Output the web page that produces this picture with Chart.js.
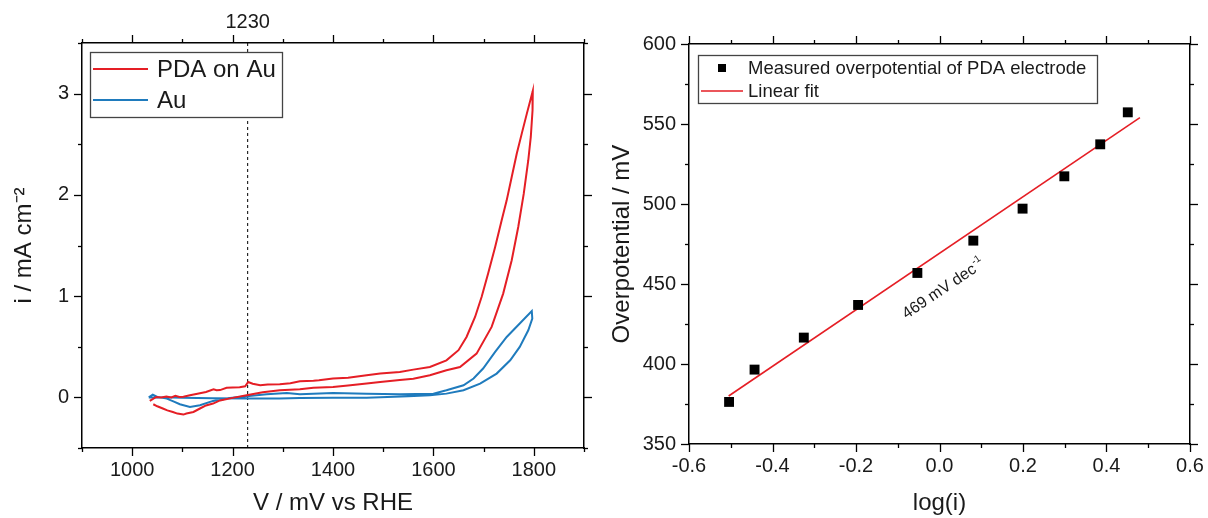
<!DOCTYPE html>
<html><head><meta charset="utf-8">
<script src="https://cdn.jsdelivr.net/npm/chart.js@4.4.1/dist/chart.umd.min.js"></script>
<style>
html,body{margin:0;padding:0;background:#fff;width:1208px;height:518px;overflow:hidden}
canvas{position:absolute;top:0}
#left{left:0}
#right{left:600px}
</style></head><body>
<canvas id="left" width="600" height="518"></canvas>
<canvas id="right" width="608" height="518"></canvas>
<script>
// ---------------- data ----------------
// Cyclic voltammogram, PDA on Au (closed loop, in drawing order)
const cvPdaVoltage = [1035,1048,1058,1068,1078,1086,1094,1102,1115,1130,1147,1162,1168,1175,1188,1200,1214,1225,1231,1240,1255,1270,1294,1315,1334,1361,1372,1400,1430,1467,1494,1533,1560,1593,1626,1650,1666,1683,1696,1709,1723,1736,1746,1756,1766,1776,1786,1798,
  1798,1797,1794,1789,1780,1769,1756,1739,1716,1686,1653,1626,1593,1560,1533,1494,1467,1430,1400,1361,1334,1294,1260,1228,1200,1175,1161,1147,1135,1122,1108,1102,1090,1081,1070,1061,1050,1042];
const cvPdaCurrent = [-0.035,0.004,0.0,0.008,0.0,0.015,0.004,0.006,0.02,0.035,0.053,0.08,0.07,0.072,0.095,0.097,0.1,0.11,0.152,0.135,0.12,0.128,0.13,0.14,0.159,0.165,0.17,0.186,0.195,0.218,0.235,0.251,0.274,0.30,0.366,0.466,0.597,0.794,0.991,1.223,1.486,1.749,1.946,2.177,2.407,2.605,2.80,3.027,
  2.95,2.836,2.572,2.342,2.012,1.683,1.354,1.025,0.696,0.432,0.30,0.268,0.218,0.185,0.172,0.152,0.136,0.118,0.103,0.095,0.08,0.07,0.05,0.02,-0.005,-0.03,-0.061,-0.08,-0.11,-0.144,-0.16,-0.17,-0.16,-0.144,-0.128,-0.11,-0.088,-0.068];
// Cyclic voltammogram, bare Au
const cvAuVoltage = [1033,1041,1050,1069,1082,1095,1115,1135,1161,1195,1228,1268,1308,1334,1400,1467,1533,1600,1626,1660,1680,1699,1723,1746,1772,1796,
  1797,1789,1772,1753,1726,1693,1660,1626,1593,1550,1467,1400,1334,1293,1227,1160,1100,1060,1033];
const cvAuCurrent = [0.0,0.027,0.005,-0.012,-0.04,-0.068,-0.095,-0.078,-0.035,-0.006,0.011,0.03,0.043,0.03,0.043,0.037,0.03,0.037,0.07,0.12,0.186,0.285,0.449,0.597,0.729,0.853,
  0.778,0.663,0.498,0.366,0.235,0.136,0.07,0.037,0.02,0.01,-0.003,-0.003,-0.006,-0.012,-0.012,-0.008,-0.004,0.0,0.0];
const referencePotential = 1230;

// Tafel plot
const tafelLogI = [-0.504,-0.443,-0.325,-0.195,-0.053,0.081,0.199,0.299,0.385,0.451];
const tafelEta  = [376.3,396.5,416.5,436.9,456.9,477.1,497.1,517.3,537.3,557.3];
const fitLogI = [-0.505, 0.48];
const fitEta  = [380, 554];
const slopeText = '469 mV dec';
const slopeSup = '-1';

// tick labels
const cvXTickLabels = [1000,1200,1400,1600,1800];
const cvYTickLabels = [0,1,2,3];
const tafelXTickLabels = [-0.6,-0.4,-0.2,0.0,0.2,0.4,0.6];
const tafelYTickLabels = [350,400,450,500,550,600];

// ---------------- styling helpers ----------------
const FONT = "'Liberation Sans', Arial, Helvetica, sans-serif";
const INK = '#1a1a1a';
const RED = '#e51e25';
const BLUE = '#1f7bbd';

const isMult = (v, step) => { const r = v / step; return Math.abs(r - Math.round(r)) < 1e-6; };
const inList = (v, list) => list.some(l => Math.abs(l - v) < 1e-9);

const tickMarks = {
  id: 'tickMarks',
  afterDraw(chart, args, opts) {
    const ctx = chart.ctx, ca = chart.chartArea;
    ctx.save();
    ctx.strokeStyle = '#000';
    ctx.lineWidth = 1.3;
    Object.keys(chart.scales).forEach(id => {
      const s = chart.scales[id];
      const st = opts.steps[s.axis];
      s.ticks.forEach(t => {
        if (!isMult(t.value, st.minor)) return;
        const len = isMult(t.value, st.major) ? 8 : 4;
        const p = Math.round(s.getPixelForValue(t.value)) + 0.5;
        ctx.beginPath();
        if (s.position === 'left') { ctx.moveTo(ca.left, p); ctx.lineTo(ca.left - len, p); }
        else if (s.position === 'right') { ctx.moveTo(ca.right, p); ctx.lineTo(ca.right + len, p); }
        else if (s.position === 'top') { ctx.moveTo(p, ca.top); ctx.lineTo(p, ca.top - len); }
        else { ctx.moveTo(p, ca.bottom); ctx.lineTo(p, ca.bottom + len); }
        ctx.stroke();
      });
    });
    ctx.restore();
  }
};

const boxLegend = {
  id: 'boxLegend',
  afterDraw(chart, args, o) {
    const ctx = chart.ctx, ca = chart.chartArea;
    const x0 = ca.left + o.dx, y0 = ca.top + o.dy;
    ctx.save();
    ctx.fillStyle = '#fff';
    ctx.fillRect(x0, y0, o.w, o.h);
    ctx.strokeStyle = '#444';
    ctx.lineWidth = 1.3;
    ctx.strokeRect(x0 + 0.5, y0 + 0.5, o.w, o.h);
    ctx.font = o.fontSize + 'px ' + FONT;
    ctx.textBaseline = 'middle';
    ctx.textAlign = 'left';
    chart.data.datasets.filter(d => !d.hideInLegend).forEach((d, i) => {
      const y = y0 + o.rowY[i];
      if (d.showLine) {
        ctx.strokeStyle = d.borderColor;
        ctx.lineWidth = d.borderWidth;
        ctx.beginPath();
        ctx.moveTo(x0 + o.lineX[0], y);
        ctx.lineTo(x0 + o.lineX[1], y);
        ctx.stroke();
      } else {
        ctx.fillStyle = d.backgroundColor;
        ctx.fillRect(x0 + o.markerX - o.marker / 2, y - o.marker / 2, o.marker, o.marker);
      }
      ctx.fillStyle = INK;
      ctx.fillText(d.label, x0 + o.textX, y + 1);
    });
    ctx.restore();
  }
};

const slopeNote = {
  id: 'slopeNote',
  afterDatasetsDraw(chart, args, o) {
    const ctx = chart.ctx;
    const x = chart.scales.x.getPixelForValue(o.x);
    const y = chart.scales.y.getPixelForValue(o.y);
    ctx.save();
    ctx.translate(x, y);
    ctx.rotate(o.angle * Math.PI / 180);
    ctx.fillStyle = INK;
    ctx.textBaseline = 'alphabetic';
    ctx.font = o.size + 'px ' + FONT;
    ctx.fillText(o.text, 0, 0);
    const w = ctx.measureText(o.text).width;
    ctx.font = Math.round(o.size * 0.62) + 'px ' + FONT;
    ctx.fillText(o.sup, w + 1, -o.size * 0.45);
    ctx.restore();
  }
};

function axis(position, min, max, step, labelFn, size, title, titlePad, labelPad) {
  const horizontal = position === 'top' || position === 'bottom';
  return {
    type: 'linear', position, min, max,
    ticks: {
      stepSize: step, autoSkip: false, maxRotation: 0, minRotation: 0,
      padding: labelPad, color: INK, font: { size: 20, family: FONT },
      callback: labelFn
    },
    grid: { display: true, drawOnChartArea: false, drawTicks: true, tickLength: 8, tickColor: 'rgba(0,0,0,0)' },
    border: { display: true, color: '#000', width: 1.5 },
    title: title ? { display: true, text: title, color: INK, font: { size: 24, family: FONT },
                     padding: horizontal ? { top: 0, bottom: titlePad } : { top: titlePad, bottom: 0 } } : { display: false },
    afterFit: s => { if (horizontal) s.height = size; else s.width = size; }
  };
}

Chart.defaults.font.family = FONT;

// ---------------- left chart: CV ----------------
const cvX = axis('bottom', 900, 1900, 100, v => inList(v, cvXTickLabels) ? String(v) : '', 70, 'V / mV vs RHE', 0, 2);
const cvX2 = axis('top', 900, 1900, 100, v => v === referencePotential ? String(referencePotential) : '', 43, null, 0, 1);
cvX2.afterBuildTicks = s => { s.ticks.push({ value: referencePotential }); s.ticks.sort((a, b) => a.value - b.value); };
const cvY = axis('left', -0.5, 3.5, 0.5, v => inList(v, cvYTickLabels) ? String(v) : '', 82, 'i / mA cm\u207B\u00B2', 10, 5);
const cvY2 = axis('right', -0.5, 3.5, 0.5, () => '', 16, null, 0, 5);

new Chart(document.getElementById('left'), {
  type: 'scatter',
  data: {
    datasets: [
      { label: 'PDA on Au', data: cvPdaVoltage.map((v, i) => ({ x: v, y: cvPdaCurrent[i] })),
        showLine: true, borderColor: RED, backgroundColor: RED, borderWidth: 2, pointRadius: 0, tension: 0 },
      { label: 'Au', data: cvAuVoltage.map((v, i) => ({ x: v, y: cvAuCurrent[i] })),
        showLine: true, borderColor: BLUE, backgroundColor: BLUE, borderWidth: 2, pointRadius: 0, tension: 0 },
      { label: referencePotential + ' mV', hideInLegend: true,
        data: [{ x: referencePotential, y: -0.5 }, { x: referencePotential, y: 3.5 }],
        showLine: true, borderColor: '#000', borderWidth: 1, borderDash: [3, 3], pointRadius: 0 }
    ]
  },
  options: {
    responsive: false, animation: false, devicePixelRatio: 1,
    layout: { padding: 0 },
    scales: { x: cvX, x2: cvX2, y: cvY, y2: cvY2 },
    plugins: {
      legend: { display: false }, tooltip: { enabled: false },
      tickMarks: { steps: { x: { minor: 100, major: 200 }, y: { minor: 0.5, major: 1 } } },
      boxLegend: { dx: 8, dy: 9, w: 192, h: 65, fontSize: 24, rowY: [17, 48], lineX: [3, 58], markerX: 30, marker: 8, textX: 67 }
    }
  },
  plugins: [tickMarks, boxLegend]
});

// ---------------- right chart: Tafel ----------------
const tfX = axis('bottom', -0.6, 0.6, 0.1, v => { const l = tafelXTickLabels.find(t => Math.abs(t - v) < 1e-9); return l === undefined ? '' : l.toFixed(1); }, 74, 'log(i)', 0, 2);
const tfX2 = axis('top', -0.6, 0.6, 0.1, () => '', 44, null, 0, 1);
const tfY = axis('left', 350, 600, 25, v => inList(v, tafelYTickLabels) ? String(v) : '', 89, 'Overpotential / mV', 8, 5);
const tfY2 = axis('right', 350, 600, 25, () => '', 18, null, 0, 5);

new Chart(document.getElementById('right'), {
  type: 'scatter',
  data: {
    datasets: [
      { label: 'Measured overpotential of PDA electrode', data: tafelLogI.map((v, i) => ({ x: v, y: tafelEta[i] })),
        showLine: false, pointStyle: 'rect', pointRadius: 7, borderWidth: 0, backgroundColor: '#000', borderColor: '#000' },
      { label: 'Linear fit', data: fitLogI.map((v, i) => ({ x: v, y: fitEta[i] })),
        showLine: true, borderColor: RED, backgroundColor: RED, borderWidth: 1.6, pointRadius: 0 }
    ]
  },
  options: {
    responsive: false, animation: false, devicePixelRatio: 1,
    layout: { padding: 0 },
    scales: { x: tfX, x2: tfX2, y: tfY, y2: tfY2 },
    plugins: {
      legend: { display: false }, tooltip: { enabled: false },
      tickMarks: { steps: { x: { minor: 0.1, major: 0.2 }, y: { minor: 25, major: 50 } } },
      boxLegend: { dx: 9, dy: 11, w: 399, h: 48, fontSize: 18.5, rowY: [13, 36], lineX: [3, 45], markerX: 24, marker: 8, textX: 50 },
      slopeNote: { x: -0.079, y: 428, angle: -34, size: 16, text: slopeText, sup: slopeSup }
    }
  },
  plugins: [tickMarks, boxLegend, slopeNote]
});
</script>
</body></html>
